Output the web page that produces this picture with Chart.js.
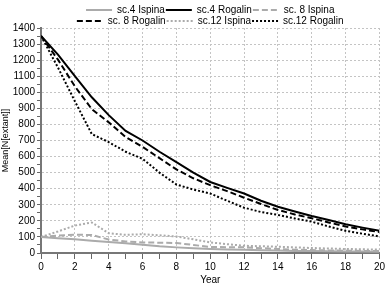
<!DOCTYPE html>
<html>
<head>
<meta charset="utf-8">
<script src="https://cdn.jsdelivr.net/npm/chart.js@4/dist/chart.umd.min.js"></script>
<style>
  html, body { margin: 0; padding: 0; background: #fff; }
  #wrap { width: 387px; height: 285px; position: relative; }
</style>
</head>
<body>
<div id="wrap"><canvas id="chart"></canvas></div>
<script>
  // values
  const years = [0, 1, 2, 3, 4, 5, 6, 7, 8, 9, 10, 11, 12, 13, 14, 15, 16, 17, 18, 19, 20];
  const sc4Ispina   = [100, 92, 85, 76, 68, 61, 52, 42, 35, 30, 25, 22, 20, 17, 15, 13, 12, 11, 10, 9, 8];
  const sc4Rogalin  = [1350, 1234, 1100, 969, 858, 760, 700, 630, 566, 500, 442, 405, 370, 325, 288, 258, 230, 205, 179, 158, 138];
  const sc8Ispina   = [100, 108, 114, 112, 84, 72, 66, 64, 62, 50, 38, 36, 35, 30, 25, 21, 18, 16, 14, 13, 12];
  const sc8Rogalin  = [1350, 1203, 1037, 895, 813, 722, 660, 590, 520, 465, 422, 385, 344, 305, 268, 240, 216, 190, 165, 147, 130];
  const sc12Ispina  = [100, 134, 171, 190, 123, 113, 117, 110, 103, 85, 66, 55, 45, 42, 39, 35, 31, 28, 25, 23, 21];
  const sc12Rogalin = [1350, 1154, 944, 740, 690, 630, 586, 500, 426, 395, 370, 325, 282, 255, 237, 215, 195, 165, 138, 120, 103];

  const FONT = "'Liberation Sans', Arial, sans-serif";
  const GRAY = '#ababab';

  function series(label, data, color, dash) {
    return {
      label, data: years.map((x, i) => ({ x, y: data[i] })),
      borderColor: color, backgroundColor: color, borderWidth: 2, borderDash: dash,
      pointRadius: 0, pointStyle: 'line', tension: 0, fill: false,
    };
  }

  // the legend reserves 10px of empty space under its rows; take most of it back
  // and nudge the rows down a little so the first one is not cut at the top
  const tightLegend = {
    id: 'tightLegend',
    afterInit(chart) {
      const lg = chart.legend;
      if (!lg) return;
      const fit = lg.fit;
      lg.fit = function () { fit.call(this); this.height -= 6; };
    },
    afterLayout(chart) {
      const lg = chart.legend;
      if (!lg) return;
      lg.top += 2; lg.bottom += 2;
    },
  };

  new Chart(document.getElementById('chart'), {
    type: 'line',
    data: {
      datasets: [
        series('sc.4 Ispina', sc4Ispina, GRAY, []),
        series('sc.4 Rogalin', sc4Rogalin, '#000', []),
        series('sc. 8 Ispina', sc8Ispina, GRAY, [6, 3]),
        series('sc. 8 Rogalin', sc8Rogalin, '#000', [6, 3]),
        series('sc.12 Ispina', sc12Ispina, GRAY, [2, 2]),
        series('sc.12 Rogalin', sc12Rogalin, '#000', [2, 2]),
      ],
    },
    plugins: [tightLegend],
    options: {
      responsive: true, maintainAspectRatio: false, animation: false,
      layout: { padding: { left: 0, right: 5, top: 2, bottom: 0 } },
      plugins: {
        legend: {
          position: 'top', fullSize: false,
          labels: {
            usePointStyle: true, pointStyle: 'line', pointStyleWidth: 26,
            padding: 1, color: '#000',
            font: { family: FONT, size: 10, lineHeight: 1 },
            generateLabels: (chart) => Chart.defaults.plugins.legend.labels.generateLabels(chart)
              .map((l) => Object.assign(l, { lineDash: chart.data.datasets[l.datasetIndex].borderDash })),
          },
        },
        tooltip: { enabled: false },
      },
      scales: {
        x: {
          type: 'linear', min: 0, max: 20,
          ticks: {
            stepSize: 1, autoSkip: false, maxRotation: 0, color: '#000', padding: 2,
            font: { family: FONT, size: 10 },
            callback: (v) => (v % 2 === 0 ? v : ''),
          },
          grid: {
            color: (c) => (c.tick && c.tick.value % 2 === 0 && c.tick.value > 0 ? '#c4c4c4' : 'transparent'),
            tickColor: '#666', tickLength: 6, lineWidth: 1,
          },
          border: { display: true, color: '#777', width: 2, dash: [2, 2] },
          title: { display: true, text: 'Year', color: '#000', font: { family: FONT, size: 10, lineHeight: 1 }, padding: 0 },
        },
        y: {
          min: 0, max: 1400,
          ticks: {
            stepSize: 50, autoSkip: false, color: '#000', padding: 2,
            font: { family: FONT, size: 10 },
            callback: (v) => (v % 100 === 0 ? v : ''),
          },
          grid: {
            color: (c) => (c.tick && c.tick.value % 100 === 0 && c.tick.value > 0 ? '#c4c4c4' : 'transparent'),
            tickColor: '#666', tickLength: 4, lineWidth: 1,
          },
          border: { display: true, color: '#777', width: 2, dash: [2, 2] },
          title: { display: true, text: 'Mean[N[extant]]', color: '#000', font: { family: FONT, size: 9 }, padding: 0 },
        },
      },
    },
  });
</script>
</body>
</html>
